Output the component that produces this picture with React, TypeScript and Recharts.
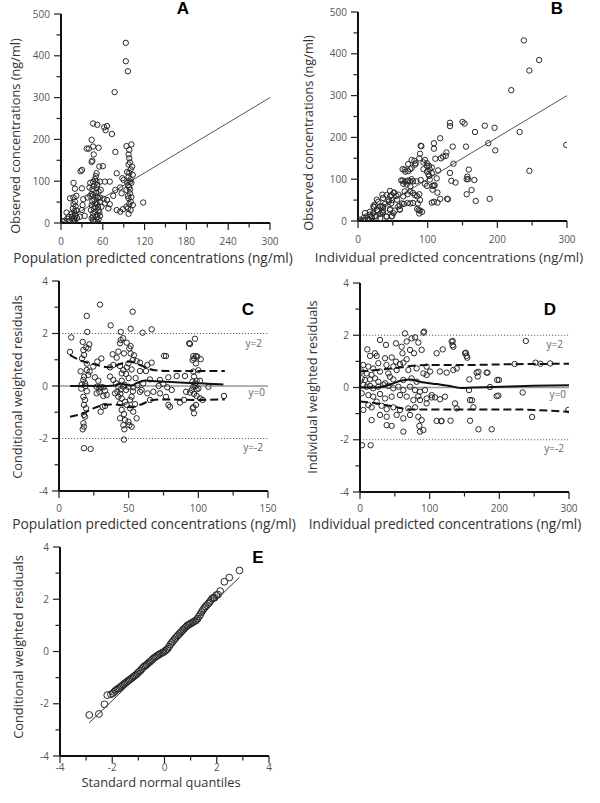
import React from "react";
import { ScatterChart, Scatter, XAxis, YAxis, ReferenceLine } from "recharts";

type Pt = [number, number];

// A: population predicted vs observed (ng/ml)
const aPoints: Pt[] = [
  [93, 431], [93, 387], [96, 363], [77, 313],
  [46, 238], [52, 235], [62, 229], [66, 232], [64, 222], [73, 213], [44, 199], [37, 178], [40, 178],
  [46, 183], [54, 180], [78, 170], [94, 184], [101, 188], [98, 175], [97, 164], [98, 155], [45, 149],
  [44, 146], [47, 164], [55, 135], [60, 136], [28, 124], [30, 127], [51, 119], [50, 112], [100, 128],
  [98, 120], [97, 111], [99, 99], [95, 97], [80, 119], [88, 107], [90, 103], [18, 96], [20, 82],
  [30, 83], [42, 96], [46, 99], [51, 99], [56, 99], [63, 99], [70, 99], [41, 85], [45, 81], [51, 83],
  [57, 79], [78, 79], [85, 85], [87, 71], [75, 65], [94, 79], [99, 71], [97, 59], [100, 51], [18, 61],
  [22, 65], [13, 59], [20, 51], [32, 57], [38, 61], [42, 65], [46, 67], [51, 63], [56, 61], [61, 58],
  [66, 55], [118, 49], [80, 31], [85, 27], [89, 33], [97, 22], [8, 25], [11, 15], [15, 22], [18, 11],
  [20, 3], [27, 15], [34, 17], [30, 31], [31, 43], [43, 31], [46, 23], [51, 14], [56, 17], [54, 30],
  [49, 39], [44, 43], [58, 39], [63, 47], [68, 35], [70, 45], [46, 7], [50, 3], [54, 9], [44, 11],
  [94, 39], [100, 31], [103, 43],
  [17, 5], [19, 8], [21, 18], [19, 28], [17, 35], [21, 40], [18, 45], [22, 30], [16, 15], [20, 22],
  [23, 12], [19, 2], [45, 52], [48, 56], [50, 48], [52, 45], [47, 35], [53, 38], [49, 27], [55, 25],
  [46, 15], [52, 20], [48, 5], [53, 2], [50, 72], [54, 75], [47, 88], [52, 91], [49, 105], [53, 60],
  [44, 70], [56, 50], [96, 90], [98, 86], [101, 96], [97, 140], [99, 145], [102, 135], [95, 122],
  [100, 105], [96, 65], [101, 62], [98, 45], [96, 35], [103, 115], [99, 80], [5, 5], [3, 3], [9, 10],
  [12, 5],
];

// B: individual predicted vs observed (ng/ml)
const bPoints: Pt[] = [
  [238, 432], [246, 360], [260, 385], [220, 313], [232, 213], [299, 182], [246, 120], [189, 53],
  [197, 169], [196, 223], [182, 228], [187, 186], [168, 213], [150, 237], [153, 233], [132, 235],
  [132, 227], [118, 198], [136, 178], [155, 178], [159, 123], [156, 100], [167, 98], [156, 64],
  [169, 48], [128, 53], [137, 137], [132, 115], [134, 96], [140, 92], [118, 53], [109, 46], [114, 68],
  [127, 164], [126, 156], [122, 154], [119, 150], [109, 186], [111, 149], [115, 121], [113, 102],
  [107, 84], [110, 86], [90, 180], [91, 179], [89, 161], [88, 150], [94, 140], [99, 132], [94, 124],
  [103, 123], [106, 115], [102, 108], [103, 99], [64, 124], [67, 123], [72, 119], [77, 127], [82, 135],
  [64, 97], [70, 95], [75, 95], [79, 95], [84, 95], [70, 87], [75, 83], [88, 64], [85, 59], [85, 29],
  [89, 25], [92, 22], [88, 18], [79, 43], [71, 43], [66, 41], [60, 37], [56, 51], [58, 63], [51, 67],
  [46, 72], [41, 62], [44, 51], [36, 55], [48, 43], [32, 35], [36, 25], [46, 29], [39, 41], [24, 39],
  [28, 25], [22, 19], [17, 15], [12, 11], [8, 7], [3, 3], [15, 3], [20, 0], [10, 19], [26, 11], [32, 7],
  [41, 11], [34, 21], [51, 19], [58, 35], [60, 27], [53, 25], [48, 11], [46, 59], [27, 51], [35, 63],
  [22, 35], [65, 59], [67, 71], [75, 71], [79, 67], [71, 64],
  [109, 173], [77, 146], [81, 144], [83, 138], [96, 146], [99, 138], [102, 132], [106, 128], [99, 118],
  [101, 112], [72, 136], [68, 118], [75, 124], [62, 97], [67, 94], [72, 97], [77, 100], [65, 89],
  [90, 98], [96, 89], [99, 84], [109, 84], [107, 75], [157, 106], [163, 74], [158, 100], [106, 44],
  [114, 44], [129, 52], [82, 62], [89, 50], [86, 42], [87, 26], [60, 28], [63, 42], [75, 42], [48, 62],
  [52, 68], [55, 60], [49, 50], [44, 46], [36, 34], [34, 34], [27, 26], [32, 17], [24, 12], [20, 9],
  [15, 4], [10, 2], [5, 1], [46, 26], [49, 12], [41, 10], [36, 20], [23, 34], [17, 22], [29, 46],
];

const unityLine: Pt[] = [[0, 0], [300, 300]];

// C: population predicted vs CWRES
const cPoints: Pt[] = [
  [29.4, 3.1], [19.9, 2.67], [52.9, 2.83], [37.1, 2.31], [51.4, 2.18], [20.3, 2.06], [44.3, 2.06],
  [60, 2.03], [66.5, 2.16], [8.8, 1.85], [17, 1.68], [21.8, 1.59], [19.4, 1.47], [21, 1.43], [17.5, 1.37],
  [18, 1.18], [16.5, 1.05], [7.9, 1.3], [44.3, 1.75], [46, 1.82], [43.8, 1.63], [48.6, 1.65],
  [51.4, 1.52], [50.5, 1.43], [51.4, 1.24], [53.8, 1.17], [52.9, 0.99], [55.7, 0.95], [58.1, 0.89],
  [38.5, 1.21], [41.4, 1.08], [42.6, 1.31], [46.6, 1.24], [30.4, 1.05], [27.5, 0.93], [24.6, 0.74],
  [36.6, 0.71], [39, 0.8], [43.8, 0.76], [48.6, 0.71], [52.1, 0.63], [49.8, 0.86], [46.2, 0.61],
  [45, 0.48], [48.1, 0.46], [58.1, 0.57], [62.4, 0.57], [63.4, 0.8], [66.5, 0.89], [76.8, 1.14],
  [93.5, 1.63], [94, 1.6], [97.6, 1.8], [96.4, 1.14], [96.9, 1.05], [98.3, 1.14], [99.3, 1.12],
  [95.9, 0.99], [101.7, 1.02], [98.3, 0.86], [96.4, 0.55], [96.9, 0.36], [84.5, 0.38], [90.4, 0.38],
  [78.5, 0.33], [72.5, 0.23], [74.9, 0.08], [77.7, -0.05], [80.9, -0.15], [65.3, 0.25], [60.5, 0.1],
  [56.2, 0.03], [53.3, -0.05], [59.3, -0.15], [15.5, 0.56], [19.9, 0.61], [21, 0.42], [17.5, 0.23],
  [18.7, 0.1], [16.3, 0.06], [25.8, 0.33], [28.2, 0.2], [29.9, -0.03], [31.8, -0.05], [33, -0.18],
  [34.2, -0.34], [31.8, -0.38], [29, -0.22], [36.6, 0.36], [39, 0.23], [40.9, 0.1], [42.6, -0.03],
  [44.3, -0.13], [41.9, -0.22], [40.2, -0.28], [46.2, -0.03], [48.1, -0.15], [49.8, -0.03],
  [42.6, -0.41], [45, -0.47], [47.4, -0.6], [43.8, -0.66], [48.6, -0.72], [51, -0.53], [52.1, -0.41],
  [45, -0.91], [46.6, -1.07], [43.8, -1.23], [47.4, -1.3], [49.8, -1.36], [50.5, -1.49], [52.1, -1.55],
  [46.2, -1.49], [46.9, -1.65], [55.7, -1.23], [53.3, -0.98], [51, -0.85], [54.5, -0.69], [17.5, -0.41],
  [18.7, -0.53], [17.9, -0.72], [19.4, -0.85], [17.9, -1.1], [18.7, -1.17], [17.5, -1.42], [17.9, -1.55],
  [17, -1.65], [27, -0.03], [29, -0.09], [27, -0.28], [31.3, -0.79], [33, -0.76], [29.9, -0.98],
  [58.1, -0.22], [63.4, -0.28], [65.3, -0.53], [67.7, -0.22], [72.5, -0.28], [76.8, -0.41],
  [78.5, -0.72], [79.7, -0.79], [86.8, -0.63], [89.7, -0.53], [91.2, -0.22], [95.2, -0.15],
  [98.8, -0.13], [96.4, -0.03], [97.6, 0.1], [95.9, 0.17], [98.8, 0.2], [101.2, 0.2], [96.9, -0.3],
  [98.8, -0.38], [101.2, -0.47], [103.1, -0.53], [96.4, -0.81], [98.3, -0.72], [96.9, -1.04],
  [95.9, -0.85], [107.2, -0.03], [118.4, -0.38], [46.6, -2.04], [17.9, -2.37], [22.7, -2.4],
  [71.5, 0.0], [75.4, 1.15], [19, 0.0], [20, -0.2], [18, 0.35], [16, -0.1], [45, 0.2], [47, 0.05],
  [50, 0.3], [44, -0.3], [53, -0.2], [55, 0.3], [100, 0.6], [98, 0.0], [100, -0.1], [94, -0.25],
  [20, 0.85], [22, 0.55],
];
const cMedian: Pt[] = [
  [8, 0.0], [20, 0.01], [30, -0.01], [40, 0.02], [44, 0.1], [48, 0.05], [52, 0.02], [56, 0.12],
  [62, 0.21], [70, 0.18], [80, 0.15], [90, 0.12], [100, 0.1], [110, 0.08], [118, 0.06],
];
const cUpper: Pt[] = [
  [7.9, 1.18], [17.5, 0.93], [24.6, 0.84], [36.6, 0.71], [43.8, 0.84], [51, 0.93], [58.1, 0.8],
  [67.7, 0.61], [77.3, 0.57], [96.4, 0.57], [119, 0.57],
];
const cLower: Pt[] = [
  [7.9, -1.17], [17.5, -1.04], [24.6, -0.85], [36.6, -0.7], [43.8, -0.72], [52.1, -0.81], [58.1, -0.72],
  [67.7, -0.53], [77.3, -0.51], [96.4, -0.53], [119, -0.51],
];

// D: individual predicted vs IWRES
const dPoints: Pt[] = [
  [91, 2.1], [92, 2.14], [64.6, 2.07], [74, 1.88], [79, 1.92], [67, 1.76], [83.7, 1.72], [28.7, 1.82],
  [37.3, 1.63], [21.5, 1.31], [10.5, 1.46], [51.7, 1.69], [59.8, 1.56], [71.8, 1.44], [77.5, 1.31],
  [88.5, 1.44], [131.6, 1.76], [134, 1.56], [110, 1.31], [118.7, 1.46], [150.7, 1.31], [153, 1.21],
  [14.4, 1.21], [23.9, 1.21], [35.9, 1.12], [45.5, 1.15], [61, 1.31], [67, 1.08], [51.7, 0.99],
  [4.8, 0.86], [12, 0.8], [19, 0.73], [26.3, 0.93], [38, 0.86], [47.8, 0.8], [57.4, 0.9], [62.2, 0.95],
  [2.4, 0.61], [9.6, 0.54], [16.7, 0.48], [28.7, 0.61], [40.7, 0.54], [52.6, 0.67], [69.4, 0.67],
  [81.3, 0.73], [95.7, 0.8], [91, 0.54], [95.7, 0.48], [100.5, 0.61], [114.8, 0.61], [124.4, 0.57],
  [134, 0.67], [138.8, 0.73], [167.5, 0.57], [181.8, 0.57], [157, 0.31], [197, 0.29], [2.4, 0.35],
  [7.2, 0.29], [14.4, 0.31], [21.5, 0.35], [26.3, 0.22], [35.9, 0.16], [43, 0.41], [47.8, 0.31],
  [62.2, 0.29], [74, 0.35], [81.3, 0.22], [4.8, 0.1], [9.6, 0.03], [14.4, 0.06], [19, -0.03],
  [26.3, 0.03], [33.5, 0.1], [40.7, 0.06], [47.8, -0.03], [55, 0.03], [62.2, -0.1], [71.8, 0.03],
  [79, -0.1], [86, -0.16], [93.3, -0.1], [2.4, -0.22], [12, -0.29], [19, -0.35], [28.7, -0.25],
  [35.9, -0.42], [45.5, -0.35], [57.4, -0.29], [67, -0.35], [76.6, -0.48], [83.7, -0.33], [95.7, -0.42],
  [102.9, -0.29], [107.7, -0.38], [114.8, -0.45], [122, -0.35], [4.8, -0.86], [12, -0.67], [16.7, -0.76],
  [23.9, -0.54], [31.1, -0.7], [38.3, -0.83], [47.8, -0.76], [57.4, -0.86], [69.4, -0.8], [79, -0.76],
  [86.1, -0.48], [95.7, -0.61], [102.9, -0.38], [136.4, -0.61], [157.9, -0.48], [162.7, -0.76],
  [138.8, -0.8], [196.2, -0.33], [16.7, -1.25], [28.7, -1.05], [38.3, -1.12], [52.6, -1.05],
  [62.2, -1.18], [71.8, -1.05], [83.7, -1.12], [88.5, -1.25], [85.2, -1.47], [38.3, -1.44],
  [45.5, -1.47], [62.2, -1.69], [86.1, -1.69], [91, -1.63], [110, -1.28], [117, -1.28], [130, -1.27],
  [158, -1.27], [170, -1.6], [189, -1.6], [2.9, -2.21], [15.3, -2.21], [238, 1.78], [233.5, -0.19],
  [247, -1.13], [299, -0.86], [259, 0.91], [222, 0.9], [273, 0.92], [252, 0.95], [199.5, 0.29],
  [198.6, -0.31], [186.6, 0.02], [156.5, -0.1], [160.8, -0.49], [170, 0.6], [169, 0.42], [183, 0.57],
  [152, 1.33], [154, 1.14], [133, 1.78], [133, 1.62], [116.7, -1.29],
];
const dMedian: Pt[] = [
  [0, 0.0], [24, 0.0], [38, 0.07], [48, 0.16], [57, 0.25], [72, 0.31], [86, 0.22], [110, 0.13],
  [129, 0.06], [139, 0.0], [145, -0.02], [163, 0.0], [191, 0.02], [249, 0.07], [300, 0.09],
];
const dUpper: Pt[] = [
  [0, 0.61], [24, 0.67], [48, 0.73], [72, 0.82], [96, 0.86], [143.5, 0.86], [215, 0.89], [300, 0.91],
];
const dLower: Pt[] = [
  [0, -0.54], [24, -0.61], [48, -0.73], [72, -0.84], [96, -0.84], [143.5, -0.84], [215, -0.84],
  [300, -0.93],
];

// E: normal quantiles vs sorted CWRES
const ePoints: Pt[] = [
  [-2.88, -2.43], [-2.51, -2.39], [-2.3, -2.02], [-2.19, -1.67], [-2.05, -1.64], [-1.98, -1.6],
  [-1.93, -1.55], [-1.88, -1.5], [-1.83, -1.46], [-1.78, -1.42], [-1.73, -1.4], [-1.68, -1.35],
  [-1.63, -1.31], [-1.58, -1.27], [-1.53, -1.23], [-1.48, -1.19], [-1.43, -1.15], [-1.38, -1.11],
  [-1.33, -1.08], [-1.28, -1.04], [-1.23, -1.0], [-1.18, -0.96], [-1.13, -0.92], [-1.08, -0.88],
  [-1.03, -0.83], [-0.98, -0.78], [-0.93, -0.74], [-0.88, -0.68], [-0.83, -0.62], [-0.78, -0.57],
  [-0.73, -0.54], [-0.68, -0.5], [-0.63, -0.45], [-0.58, -0.41], [-0.53, -0.37], [-0.48, -0.32],
  [-0.43, -0.27], [-0.38, -0.23], [-0.33, -0.2], [-0.28, -0.16], [-0.23, -0.13], [-0.18, -0.1],
  [-0.13, -0.07], [-0.08, -0.04], [-0.03, -0.02], [0.02, 0.02], [0.07, 0.06], [0.12, 0.11],
  [0.17, 0.18], [0.22, 0.26], [0.27, 0.33], [0.32, 0.39], [0.37, 0.45], [0.42, 0.51], [0.47, 0.57],
  [0.52, 0.62], [0.57, 0.68], [0.62, 0.73], [0.67, 0.79], [0.72, 0.84], [0.77, 0.89], [0.82, 0.94],
  [0.87, 0.99], [0.92, 1.02], [0.97, 1.05], [1.02, 1.08], [1.07, 1.11], [1.12, 1.14], [1.17, 1.17],
  [1.22, 1.2], [1.27, 1.26], [1.32, 1.34], [1.37, 1.42], [1.42, 1.51], [1.47, 1.59], [1.52, 1.66],
  [1.57, 1.72], [1.62, 1.77], [1.67, 1.83], [1.72, 1.88], [1.77, 1.95], [1.82, 2.03], [1.87, 2.05],
  [1.92, 2.06], [1.98, 2.16], [2.05, 2.18], [2.13, 2.31], [2.29, 2.67], [2.48, 2.83], [2.87, 3.1],
];
const qqLine: Pt[] = [[-2.88, -2.73], [2.87, 2.84]];

const concTicks300 = [0, 30, 60, 90, 120, 150, 180, 210, 240, 270, 300];
const concLabels300 = [0, 60, 120, 180, 240, 300];
const indTicks = [0, 50, 100, 150, 200, 250, 300];
const indLabels = [0, 100, 200, 300];
const obsTicks = [0, 50, 100, 150, 200, 250, 300, 350, 400, 450, 500];
const obsLabels = [0, 100, 200, 300, 400, 500];
const popTicks150 = [0, 25, 50, 75, 100, 125, 150];
const popLabels150 = [0, 50, 100, 150];
const resTicks = [-4, -3, -2, -1, 0, 1, 2, 3, 4];
const resLabels = [-4, -2, 0, 2, 4];

const FONT = "'Open Sans', 'Noto Sans', sans-serif";
const toXY = (pts: Pt[]) => pts.map(([x, y]) => ({ x, y }));

function mkTick(orient: "x" | "y", labeled: number[], gap: number) {
  return function TickMark(props: any) {
    const { x, y, payload } = props;
    const v = payload.value as number;
    const major = labeled.includes(v);
    const len = major ? 7 : 4.5;
    if (orient === "x") {
      return (
        <g>
          <line x1={x} x2={x} y1={y} y2={y + len} stroke="#222" strokeWidth={1.2} />
          {major && (
            <text x={x} y={y + gap} textAnchor="middle" fontSize={10} fill="#555" fontFamily={FONT}>
              {v}
            </text>
          )}
        </g>
      );
    }
    return (
      <g>
        <line x1={x} x2={x - len} y1={y} y2={y} stroke="#222" strokeWidth={1.2} />
        {major && (
          <text x={x - gap} y={y + 3.5} textAnchor="end" fontSize={10} fill="#555" fontFamily={FONT}>
            {v}
          </text>
        )}
      </g>
    );
  };
}

const ring = (r: number) =>
  function Ring(p: any) {
    if (p.cx == null || p.cy == null) return <g />;
    return <circle cx={p.cx} cy={p.cy} r={r} fill="none" stroke="#2a2a2a" strokeWidth={1} />;
  };
const NoDot = () => <g />;

type PanelProps = {
  left: number;
  top: number;
  w: number;
  h: number;
  xDomain: [number, number];
  yDomain: [number, number];
  xTicks: number[];
  xLabels: number[];
  yTicks: number[];
  yLabels: number[];
  xGap?: number;
  children: React.ReactNode;
};

const ML = 60;
const MT = 10;
const MR = 25;
const MB = 35;

function Panel(p: PanelProps) {
  return (
    <div style={{ position: "absolute", left: p.left - ML, top: p.top - MT }}>
      <ScatterChart
        width={p.w + ML + MR}
        height={p.h + MT + MB}
        margin={{ top: MT, right: MR, bottom: MB - 30, left: ML - 50 }}
      >
        <XAxis
          type="number"
          dataKey="x"
          domain={p.xDomain}
          ticks={p.xTicks}
          interval={0}
          allowDataOverflow
          height={30}
          tickSize={0}
          tickMargin={0}
          tick={mkTick("x", p.xLabels, p.xGap ?? 22)}
          axisLine={{ stroke: "#111", strokeWidth: 2 }}
        />
        <YAxis
          type="number"
          dataKey="y"
          domain={p.yDomain}
          ticks={p.yTicks}
          interval={0}
          allowDataOverflow
          width={50}
          tickSize={0}
          tickMargin={0}
          tick={mkTick("y", p.yLabels, 11)}
          axisLine={{ stroke: "#111", strokeWidth: 2 }}
        />
        {p.children}
      </ScatterChart>
    </div>
  );
}

const refLabel = (value: string, offset: number) => ({
  value,
  position: "insideTopRight" as const,
  offset,
  fill: "#666",
  fontSize: 10,
  fontFamily: FONT,
});

function residualRefs() {
  return [
    <ReferenceLine key="r2" y={2} stroke="#666" strokeWidth={1} strokeDasharray="1.2 1.8" label={refLabel("y=2", 6)} />,
    <ReferenceLine key="r0" y={0} stroke="#999" strokeWidth={1.3} label={refLabel("y=0", 3)} />,
    <ReferenceLine key="rm2" y={-2} stroke="#666" strokeWidth={1} strokeDasharray="1.2 1.8" label={refLabel("y=-2", 5)} />,
  ];
}

const segment = (pts: Pt[]) => pts.map(([x, y]) => ({ x, y }));

const xTitles = [
  { text: "Population predicted concentrations (ng/ml)", cx: 153, cy: 258, size: 13.6 },
  { text: "Individual predicted concentrations (ng/ml)", cx: 449, cy: 258, size: 13.4 },
  { text: "Population predicted concentrations (ng/ml)", cx: 154, cy: 524, size: 13.8 },
  { text: "Individual predicted concentrations (ng/ml)", cx: 445, cy: 524, size: 13.6 },
  { text: "Standard normal quantiles", cx: 161, cy: 782, size: 12.8 },
];
const yTitles = [
  { text: "Observed concentrations (ng/ml)", cx: 15, cy: 136 },
  { text: "Observed concentrations (ng/ml)", cx: 308, cy: 133 },
  { text: "Conditional weighted residuals", cx: 17, cy: 387 },
  { text: "Individual weighted residuals", cx: 312, cy: 387 },
  { text: "Conditional weighted residuals", cx: 18, cy: 647 },
];
const letters = [
  { text: "A", cx: 183, cy: 8 },
  { text: "B", cx: 557, cy: 8 },
  { text: "C", cx: 248, cy: 309 },
  { text: "D", cx: 550, cy: 309 },
  { text: "E", cx: 258, cy: 557 },
];

const solid = { stroke: "#111", strokeWidth: 2 };
const dashed = { stroke: "#111", strokeWidth: 2, strokeDasharray: "8 4" };

export default function App() {
  return (
    <div
      style={{
        position: "absolute",
        left: 0,
        top: 0,
        width: 600,
        height: 803,
        background: "#fff",
        fontFamily: FONT,
        overflow: "hidden",
      }}
    >
      <Panel left={61} top={14} w={209} h={209} xDomain={[0, 300]} yDomain={[0, 500]}
        xTicks={concTicks300} xLabels={concLabels300} yTicks={obsTicks} yLabels={obsLabels}>
        <ReferenceLine segment={segment(unityLine)} stroke="#555" strokeWidth={1} ifOverflow="visible" />
        <Scatter data={toXY(aPoints)} shape={ring(2.7)} isAnimationActive={false} />
      </Panel>

      <Panel left={358} top={12} w={209} h={209} xDomain={[0, 300]} yDomain={[0, 500]}
        xTicks={indTicks} xLabels={indLabels} yTicks={obsTicks} yLabels={obsLabels}>
        <ReferenceLine segment={segment(unityLine)} stroke="#555" strokeWidth={1} ifOverflow="visible" />
        <Scatter data={toXY(bPoints)} shape={ring(2.7)} isAnimationActive={false} />
      </Panel>

      <Panel left={59} top={281} w={209} h={210} xDomain={[0, 150]} yDomain={[-4, 4]} xGap={21}
        xTicks={popTicks150} xLabels={popLabels150} yTicks={resTicks} yLabels={resLabels}>
        {residualRefs()}
        <Scatter data={toXY(cPoints)} shape={ring(2.7)} isAnimationActive={false} />
        <Scatter data={toXY(cMedian)} shape={NoDot} line={solid} lineJointType="monotoneX" isAnimationActive={false} />
        <Scatter data={toXY(cUpper)} shape={NoDot} line={dashed} lineJointType="monotoneX" isAnimationActive={false} />
        <Scatter data={toXY(cLower)} shape={NoDot} line={dashed} lineJointType="monotoneX" isAnimationActive={false} />
      </Panel>

      <Panel left={360} top={283} w={209} h={209} xDomain={[0, 300]} yDomain={[-4, 4]} xGap={20}
        xTicks={indTicks} xLabels={indLabels} yTicks={resTicks} yLabels={resLabels}>
        {residualRefs()}
        <Scatter data={toXY(dPoints)} shape={ring(2.7)} isAnimationActive={false} />
        <Scatter data={toXY(dMedian)} shape={NoDot} line={solid} lineJointType="monotoneX" isAnimationActive={false} />
        <Scatter data={toXY(dUpper)} shape={NoDot} line={dashed} lineJointType="monotoneX" isAnimationActive={false} />
        <Scatter data={toXY(dLower)} shape={NoDot} line={dashed} lineJointType="monotoneX" isAnimationActive={false} />
      </Panel>

      <Panel left={60} top={547} w={209} h={209} xDomain={[-4, 4]} yDomain={[-4, 4]} xGap={15}
        xTicks={resTicks} xLabels={resLabels} yTicks={resTicks} yLabels={resLabels}>
        <ReferenceLine segment={segment(qqLine)} stroke="#333" strokeWidth={1} ifOverflow="visible" />
        <Scatter data={toXY(ePoints)} shape={ring(3.4)} isAnimationActive={false} />
      </Panel>

      {xTitles.map((t, i) => (
        <div key={"x" + i} style={{
          position: "absolute", left: t.cx, top: t.cy, transform: "translate(-50%, -50%)",
          whiteSpace: "nowrap", fontSize: t.size, color: "#333", lineHeight: 1,
        }}>{t.text}</div>
      ))}
      {yTitles.map((t, i) => (
        <div key={"y" + i} style={{
          position: "absolute", left: t.cx, top: t.cy, transform: "translate(-50%, -50%) rotate(-90deg)",
          whiteSpace: "nowrap", fontSize: 12.8, color: "#333", lineHeight: 1,
        }}>{t.text}</div>
      ))}
      {letters.map((t) => (
        <div key={t.text} style={{
          position: "absolute", left: t.cx, top: t.cy, transform: "translate(-50%, -50%)",
          fontFamily: "'Liberation Sans', Arial, sans-serif", fontWeight: 700, fontSize: 17,
          color: "#000", lineHeight: 1,
        }}>{t.text}</div>
      ))}
    </div>
  );
}
